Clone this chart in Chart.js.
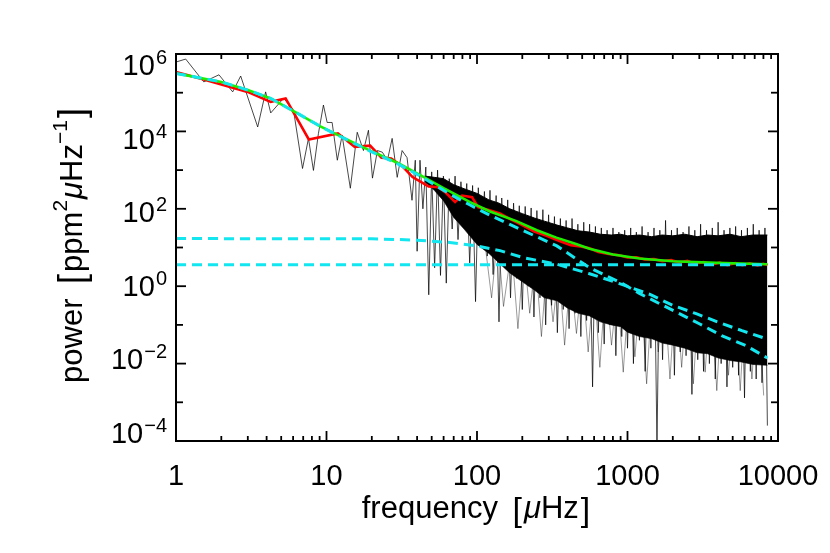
<!DOCTYPE html>
<html>
<head>
<meta charset="utf-8">
<script src="https://cdn.jsdelivr.net/npm/chart.js@4.4.1/dist/chart.umd.min.js"></script>
<style>
  html, body { margin: 0; padding: 0; background: #fff; }
  #wrap { width: 830px; height: 553px; }
</style>
</head>
<body>
<div id="wrap"><canvas id="spec" width="830" height="553"></canvas></div>
<script>
// raw power spectrum (sparse low end + spiky high end)
const specFreq = [1.00, 1.16, 1.53, 1.93, 2.38, 2.69, 3.49, 3.94, 4.26, 5.19, 6.04, 6.93, 7.59, 8.19, 8.84, 9.54, 10.1, 10.9, 11.8, 12.7,
  14.4, 16.0, 17.6, 19.0, 20.2, 21.8, 23.5, 25.4, 27.3, 29.5, 31.8, 34.3, 37.0, 38.9,
  40, 41.8, 43.7, 45.7, 47.8, 50, 52.3, 54.7, 57.2, 59.8,
  62.5, 65.4, 68.4, 71.5, 74.8, 78.2, 81.8, 85.5, 89.4, 93.5,
  97.8, 102, 107, 112, 117, 122, 128, 134, 140, 146,
  153, 160, 167, 175, 183, 191, 200, 209, 219, 229,
  239, 250, 262, 274, 286, 299, 313, 327, 342, 358,
  374, 391, 409, 428, 448, 468, 490, 512, 535, 560,
  586, 612, 640, 670, 700, 732, 766, 801, 837, 876,
  916, 958, 1000, 1050, 1095, 1145, 1200, 1250, 1310, 1370,
  1430, 1500, 1570, 1640, 1710, 1790, 1870, 1960, 2050, 2140,
  2240, 2340, 2450, 2560, 2680, 2800, 2930, 3060, 3200, 3350,
  3500, 3660, 3830, 4000, 4190, 4380, 4580, 4790, 5000, 5230,
  5470, 5720, 5990, 6260, 6550, 6850, 7160, 7490, 7830, 8190,
  8500];
const specPower = [6.2e5, 7.4e5, 1.9e5, 2.9e5, 1.05e5, 2.7e5, 1.3e4, 1.05e5, 3.0e4, 7.2e4, 3.5e4, 1.1e3, 6.6e3, 980, 8.9e3, 4.8e4, 1.7e4, 1.7e4, 1.8e3, 7.9e3,
  340, 9.5e3, 3.2e3, 1.07e4, 620, 3.2e3, 2.9e3, 1.8e3, 6.6e3, 650, 3.2e3, 2.1e3, 166, 1.8e3,
  8, 1800, 100, 1200, 0.6, 900, 3, 1000, 1.9, 700,
  1.2, 600, 30, 700, 16, 500, 40, 450, 4, 400,
  0.4, 350, 10, 280, 6, 300, 2, 220, 0.12, 190,
  3, 170, 0.5, 140, 1.6, 120, 0.25, 115, 1, 105,
  0.16, 90, 0.5, 95, 0.1, 70, 0.32, 63, 0.063, 56,
  0.25, 50, 0.08, 56, 0.2, 40, 0.05, 45, 0.13, 40,
  0.0025, 35, 0.063, 32, 0.032, 28, 0.1, 32, 0.016, 25,
  0.05, 28, 0.025, 32, 0.01, 25, 0.04, 35, 0.0063, 25,
  0.025, 32, 8e-5, 28, 0.0126, 50, 0.032, 28, 0.005, 32,
  0.02, 25, 0.016, 35, 0.0016, 28, 0.0126, 40, 0.0063, 28,
  0.01, 32, 0.004, 45, 0.01, 28, 0.0025, 32, 0.008, 35,
  0.005, 28, 0.0013, 32, 0.0063, 40, 0.004, 28, 0.0032, 32,
  2.5e-4];

// extra downward spikes of the raw spectrum (grey fringe under the dense part)
const dipFreq = [110, 125, 137, 150, 170, 187, 205, 224, 245, 268, 292, 320, 350, 382, 418, 458,
  500, 548, 598, 655, 716, 783, 857, 937, 1025, 1120, 1225, 1340, 1465, 1600, 1750, 1915,
  2095, 2290, 2505, 2740, 3000, 3280, 3590, 3920, 4290, 4690, 5130, 5610, 6140, 6710, 7340, 8030];
const dipPower = [30, 0.5, 20, 0.3, 10, 0.08, 8, 0.2, 5, 0.05, 4, 0.12, 3, 0.03, 2, 0.06,
  2, 0.02, 1.5, 0.008, 1.5, 0.03, 1, 0.006, 1, 0.015, 1, 0.003, 1, 0.02, 1, 0.004,
  1, 0.008, 1, 0.003, 1, 0.006, 1, 0.002, 1, 0.005, 1, 0.002, 1, 0.004, 1, 0.0015];

// dense core of the spectrum (top and bottom of the solid black)
const bandFreq = [45, 52, 60, 70, 82, 100, 120, 140, 165, 200, 240, 280, 340, 400, 470, 560,
  660, 780, 900, 1000, 1200, 1450, 1700, 2000, 2400, 2900, 3400, 4000, 4800, 5700, 6800, 8500];
const bandHigh = [700, 650, 600, 420, 330, 250, 170, 140, 100, 75, 58, 48, 38, 32, 27, 25,
  22, 21, 22, 20, 21, 19, 21, 20, 22, 19, 21, 20, 22, 19, 21, 21];
const bandLow = [500, 300, 160, 60, 30, 12, 7, 4, 2.2, 1.3, 0.8, 0.5, 0.42, 0.27, 0.2, 0.17,
  0.12, 0.1, 0.09, 0.065, 0.05, 0.044, 0.034, 0.03, 0.025, 0.019, 0.018, 0.014, 0.012, 0.011, 0.0095, 0.009];

// smoothed spectrum (red)
const redFreq = [1, 1.53, 2.99, 4.26, 5.35, 7.63, 11.9, 15.4, 19.5, 23.2, 26.9, 32.3, 37.3, 47.7, 55, 61.4, 71.5, 79.6, 92.7, 101.6,
  118, 142, 170, 200, 240, 290, 350, 420, 500, 560, 640, 750, 880, 1000, 1150, 1300, 1500, 1700, 1950, 2200,
  2500, 2800, 3200, 3600, 4100, 4600, 5200, 5800, 6500, 7300, 8000, 8500];
const redPower = [3.4e5, 2.2e5, 1.05e5, 5.8e4, 7.1e4, 6.2e3, 8.9e3, 4.0e3, 4.3e3, 2.1e3, 2.0e3, 1.2e3, 660, 380, 360, 270, 150, 220, 200, 110,
  95, 76, 52, 38, 26, 20, 15, 11.5, 10.5, 9.5, 7.6, 6.8, 6.3, 5.5, 5.6, 4.9, 5.0, 4.4, 4.7, 4.1,
  4.5, 3.8, 4.2, 3.6, 4.1, 3.5, 3.95, 3.5, 3.9, 3.45, 3.8, 3.5];

// total fit (green)
const fitFreq = [1, 2, 3, 4.26, 6, 9.1, 13, 19.5, 30, 42, 60, 90, 122, 183, 250, 337, 450, 560, 800, 1200, 2000, 3900, 8500];
const fitPower = [3.16e5, 1.9e5, 1.17e5, 7.1e4, 3.4e4, 1.35e4, 6.8e3, 3.2e3, 1.5e3, 740, 340, 148, 85, 48, 28, 18, 12.5, 9.3, 6.6, 5.2, 4.4, 4.0, 3.7];

// fit components (cyan dashed)
const comp1Freq = [1, 2, 3, 4.26, 6, 9.1, 13, 19.5, 30, 42, 66, 90, 122, 202, 339, 560, 927, 1200, 2210, 3000, 4260, 6130, 8500];
const comp1Power = [3.16e5, 1.9e5, 1.17e5, 7.1e4, 3.4e4, 1.35e4, 6.7e3, 3.1e3, 1.42e3, 700, 240, 125, 68, 27.5, 11, 3.0, 1.17, 0.65, 0.195, 0.107, 0.052, 0.029, 0.014];
const comp2Freq = [1, 20, 40, 66, 100, 142, 202, 339, 560, 927, 1400, 2000, 2860, 4070, 5760, 8500];
const comp2Power = [17, 16.8, 15.5, 13.5, 11, 8.3, 5.5, 3.7, 2.1, 1.1, 0.62, 0.32, 0.195, 0.115, 0.071, 0.043];
const noiseFreq = [1, 8500];
const noisePower = [3.6, 3.6];

// axis labels
const xTickValues = [1, 10, 100, 1000, 10000];
const xTickLabels = ['1', '10', '100', '1000', '10000'];
const yTickValues = [1e6, 1e4, 1e2, 1, 1e-2, 1e-4];
const yTickExps = ['6', '4', '2', '0', '\u22122', '\u22124'];

const pts = (fs, ps) => fs.map((f, i) => ({ x: f, y: ps[i] }));
const FONT = '"Liberation Sans", Arial, sans-serif';

function drawPieces(ctx, pieces, cx, base) {
  let w = 0;
  pieces.forEach(p => { ctx.font = p.font; p.w = ctx.measureText(p.t).width + (p.gap || 0); w += p.w; });
  let x = cx - w / 2;
  ctx.textAlign = 'left';
  ctx.textBaseline = 'alphabetic';
  pieces.forEach(p => {
    ctx.font = p.font;
    ctx.fillText(p.t, x, base + (p.dy || 0));
    x += p.w;
  });
}

const framePlugin = {
  id: 'frame',
  afterDraw(chart) {
    const { ctx, chartArea: a, scales: { x, y } } = chart;
    ctx.save();
    ctx.strokeStyle = '#000';
    ctx.fillStyle = '#000';
    ctx.lineWidth = 2;
    ctx.strokeRect(a.left, a.top, a.right - a.left, a.bottom - a.top);

    const seg = (x1, y1, x2, y2) => { ctx.beginPath(); ctx.moveTo(x1, y1); ctx.lineTo(x2, y2); ctx.stroke(); };
    ctx.lineWidth = 1.8;
    for (let d = 1; d < 10000; d *= 10) {
      for (let m = 1; m < 10; m++) {
        const px = x.getPixelForValue(d * m);
        const len = m === 1 ? 10 : 5;
        seg(px, a.bottom, px, a.bottom - len);
        seg(px, a.top, px, a.top + len);
      }
    }
    for (let e = -3; e <= 5; e++) {
      const py = y.getPixelForValue(Math.pow(10, e));
      const len = e % 2 === 0 ? 10 : 7;
      seg(a.left, py, a.left + len, py);
      seg(a.right, py, a.right - len, py);
    }

    // x tick labels
    ctx.font = '29px ' + FONT;
    ctx.textAlign = 'center';
    ctx.textBaseline = 'alphabetic';
    xTickValues.forEach((v, i) => ctx.fillText(xTickLabels[i], x.getPixelForValue(v), 485));

    // y tick labels 10^n
    yTickValues.forEach((v, i) => {
      const py = y.getPixelForValue(v);
      const cy = a.top + 11 + (py - a.top) * 0.951;
      ctx.font = '29px ' + FONT;
      const wb = ctx.measureText('10').width;
      ctx.font = '20px ' + FONT;
      const we = ctx.measureText(yTickExps[i]).width;
      const x0 = 167 - wb - we - 1;
      ctx.textAlign = 'left';
      ctx.font = '29px ' + FONT;
      ctx.fillText('10', x0, cy + 10);
      ctx.font = '20px ' + FONT;
      ctx.fillText(yTickExps[i], x0 + wb + 1, cy - 1);
    });

    // axis titles
    const big = '31px ' + FONT, sup = '21px ' + FONT, ital = 'italic 31px ' + FONT;
    drawPieces(ctx, [
      { t: 'frequency ', font: big, gap: 6 },
      { t: '[', font: '34px ' + FONT, dy: 3, gap: 2 },
      { t: '\u03bc', font: ital },
      { t: 'Hz', font: big, gap: 2 },
      { t: ']', font: '34px ' + FONT, dy: 3 }
    ], (a.left + a.right) / 2 - 1, 518);

    ctx.translate(82, (a.top + a.bottom) / 2 - 2);
    ctx.rotate(-Math.PI / 2);
    drawPieces(ctx, [
      { t: 'power ', font: big, gap: 6 },
      { t: '[', font: '36px ' + FONT, dy: 2, gap: 2 },
      { t: 'ppm', font: big },
      { t: '2', font: sup, dy: -15, gap: 1 },
      { t: '\u03bc', font: ital },
      { t: 'Hz', font: big },
      { t: '\u22121', font: sup, dy: -15, gap: 2 },
      { t: ']', font: '36px ' + FONT, dy: 2 }
    ], 0, 0);
    ctx.restore();
  }
};

const cyan = '#14e6ef';
new Chart(document.getElementById('spec'), {
  type: 'line',
  data: {
    datasets: [
      { data: pts(noiseFreq, noisePower), borderColor: cyan, borderWidth: 3, borderDash: [10, 6], order: 1 },
      { data: pts(comp2Freq, comp2Power), borderColor: cyan, borderWidth: 3, borderDash: [10, 6], order: 1 },
      { data: pts(comp1Freq, comp1Power), borderColor: cyan, borderWidth: 3, borderDash: [10, 6], order: 1 },
      { data: pts(fitFreq, fitPower), borderColor: '#1fee00', borderWidth: 2.6, order: 2 },
      { data: pts(redFreq, redPower), borderColor: '#ff0000', borderWidth: 2.6, order: 3 },
      { data: pts(specFreq, specPower), borderColor: 'rgba(0,0,0,0.8)', borderWidth: 0.9, order: 4 },
      { data: pts(dipFreq, dipPower), borderColor: 'rgba(0,0,0,0.5)', borderWidth: 0.8, order: 4 },
      { data: pts(bandFreq, bandLow), borderColor: 'rgba(0,0,0,0.6)', borderWidth: 1, order: 5 },
      { data: pts(bandFreq, bandHigh), borderColor: '#000', borderWidth: 1, backgroundColor: '#000', fill: '-1', order: 5 }
    ]
  },
  options: {
    responsive: false,
    animation: false,
    layout: { padding: { left: 0, right: 52, top: 54, bottom: 0 } },
    elements: { point: { radius: 0 }, line: { tension: 0 } },
    plugins: { legend: { display: false }, tooltip: { enabled: false } },
    scales: {
      x: {
        type: 'logarithmic', min: 1, max: 10000,
        grid: { display: false }, border: { display: false }, ticks: { display: false },
        afterFit: s => { s.height = 112; }
      },
      y: {
        type: 'logarithmic', min: 1e-4, max: 1e6,
        grid: { display: false }, border: { display: false }, ticks: { display: false },
        afterFit: s => { s.width = 176; }
      }
    }
  },
  plugins: [framePlugin]
});
</script>
</body>
</html>
